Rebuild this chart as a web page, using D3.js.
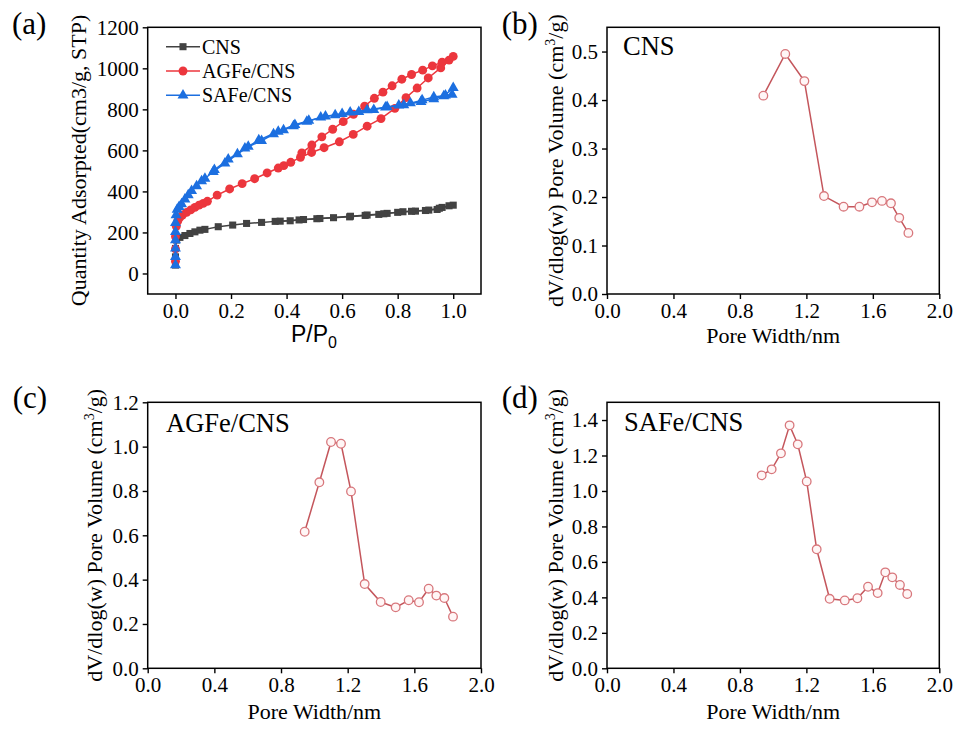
<!DOCTYPE html>
<html>
<head>
<meta charset="utf-8">
<script src="https://cdn.jsdelivr.net/npm/d3@7/dist/d3.min.js"></script>
<style>
  html, body { margin: 0; padding: 0; background: #fff; }
  svg { display: block; }
</style>
</head>
<body>
<svg id="fig" width="957" height="729"></svg>
<script>
// ---------- (a) N2 adsorption / desorption isotherms ----------
const cnsAdsP = [0, 0, 0, 0.004, 0.016, 0.034, 0.052, 0.07, 0.088, 0.106, 0.154, 0.206, 0.256, 0.31, 0.359, 0.413, 0.461, 0.509, 0.569, 0.627, 0.683, 0.732, 0.762, 0.819, 0.864, 0.912, 0.942, 0.96, 1.0];
const cnsAdsQ = [41, 81, 122, 163, 176, 185, 195, 203, 211, 215, 228, 236, 244, 249, 254, 257, 263, 267, 272, 276, 283, 288, 293, 301, 304, 309, 312, 322, 333];
const cnsDesP = [0.985, 0.95, 0.9, 0.85, 0.8, 0.75, 0.69, 0.63, 0.52, 0.445, 0.377];
const cnsDesQ = [330, 318, 307, 303, 298, 291, 285, 279, 268, 261, 255];

const agfeAdsP = [0, 0, 0, 0.003, 0.008, 0.015, 0.025, 0.04, 0.055, 0.07, 0.085, 0.1, 0.115, 0.15, 0.195, 0.24, 0.285, 0.33, 0.37, 0.39, 0.415, 0.45, 0.49, 0.535, 0.59, 0.64, 0.69, 0.74, 0.79, 0.83, 0.87, 0.91, 0.955, 1.0];
const agfeAdsQ = [60, 120, 180, 230, 255, 272, 285, 298, 310, 322, 333, 342, 352, 382, 412, 438, 462, 490, 514, 526, 542, 566, 590, 613, 642, 678, 718, 755, 805, 857, 904, 953, 1002, 1058];
const agfeDesP = [0.985, 0.96, 0.925, 0.89, 0.85, 0.815, 0.78, 0.747, 0.716, 0.681, 0.641, 0.604, 0.566, 0.527, 0.491, 0.455];
const agfeDesQ = [1040, 1030, 1012, 991, 970, 947, 915, 884, 854, 816, 776, 740, 703, 666, 626, 588];

const safeAdsP = [0, 0, 0, 0, 0, 0, 0.002, 0.006, 0.013, 0.022, 0.034, 0.046, 0.058, 0.076, 0.094, 0.106, 0.136, 0.178, 0.223, 0.262, 0.31, 0.353, 0.389, 0.425, 0.473, 0.523, 0.575, 0.629, 0.69, 0.756, 0.822, 0.884, 0.93, 0.966, 1.0];
const safeAdsQ = [41, 81, 122, 163, 203, 247, 285, 312, 325, 338, 361, 382, 403, 426, 450, 463, 496, 537, 582, 618, 647, 680, 699, 719, 740, 761, 772, 785, 797, 810, 821, 837, 850, 865, 905];
const safeDesP = [0.996, 0.972, 0.93, 0.888, 0.846, 0.804, 0.762, 0.714, 0.66, 0.6, 0.54, 0.48, 0.43, 0.37, 0.3, 0.25, 0.19, 0.14];
const safeDesQ = [872, 868, 860, 845, 830, 820, 812, 798, 788, 778, 766, 745, 725, 692, 650, 610, 556, 505];

const seriesNames = ["CNS", "AGFe/CNS", "SAFe/CNS"];
const isoXTicks = [0, 0.2, 0.4, 0.6, 0.8, 1.0];
const isoYTicks = [0, 200, 400, 600, 800, 1000, 1200];

// ---------- (b)-(d) pore size distributions ----------
const cnsWidth = [0.941, 1.073, 1.188, 1.306, 1.424, 1.519, 1.595, 1.655, 1.709, 1.759, 1.814];
const cnsVol   = [0.409, 0.495, 0.439, 0.202, 0.180, 0.180, 0.189, 0.192, 0.187, 0.157, 0.126];

const agfeWidth = [0.942, 1.030, 1.100, 1.160, 1.220, 1.302, 1.398, 1.488, 1.566, 1.628, 1.686, 1.732, 1.780, 1.832];
const agfeVol   = [0.616, 0.839, 1.021, 1.013, 0.798, 0.380, 0.299, 0.275, 0.307, 0.298, 0.359, 0.328, 0.317, 0.233];

const safeWidth = [0.931, 0.991, 1.047, 1.099, 1.148, 1.202, 1.262, 1.340, 1.431, 1.507, 1.571, 1.629, 1.675, 1.717, 1.763, 1.807];
const safeVol   = [1.088, 1.122, 1.212, 1.370, 1.263, 1.054, 0.671, 0.392, 0.383, 0.395, 0.460, 0.424, 0.541, 0.513, 0.470, 0.419];

const poreXTicks = [0, 0.4, 0.8, 1.2, 1.6, 2.0];
const cnsYTicks  = [0, 0.1, 0.2, 0.3, 0.4, 0.5];
const agfeYTicks = [0, 0.2, 0.4, 0.6, 0.8, 1.0, 1.2];
const safeYTicks = [0, 0.2, 0.4, 0.6, 0.8, 1.0, 1.2, 1.4];

// ---------- drawing ----------
const svg = d3.select("#fig");
const SERIF = "'Liberation Serif', 'Times New Roman', serif";
const SANS = "'Liberation Sans', Arial, sans-serif";
const zip = (xs, ys) => xs.map((x, i) => [x, ys[i]]);

function frame(g, x, y, xTicks, yTicks, fmtX, fmtY) {
  const [x0, x1] = x.range();
  const [y0, y1] = y.range();
  g.append("g")
    .attr("transform", `translate(0,${y0})`)
    .call(d3.axisBottom(x).tickValues(xTicks).tickFormat(fmtX).tickSize(5).tickSizeOuter(0).tickPadding(4))
    .call(a => a.select(".domain").remove());
  g.append("g")
    .attr("transform", `translate(${x0},0)`)
    .call(d3.axisLeft(y).tickValues(yTicks).tickFormat(fmtY).tickSize(5).tickSizeOuter(0).tickPadding(4))
    .call(a => a.select(".domain").remove());
  g.selectAll(".tick line").attr("stroke", "#000").attr("stroke-width", 1.4);
  g.selectAll(".tick text").attr("font-family", SERIF).attr("font-size", 21).attr("fill", "#000");
  g.append("rect")
    .attr("x", x0).attr("y", y1).attr("width", x1 - x0).attr("height", y0 - y1)
    .attr("fill", "none").attr("stroke", "#000").attr("stroke-width", 1.5);
}

function yTitle(g, xPos, yMid) {
  const t = g.append("text")
    .attr("transform", `translate(${xPos},${yMid}) rotate(-90)`)
    .attr("text-anchor", "middle")
    .attr("font-family", SERIF).attr("font-size", 22);
  t.append("tspan").text("dV/dlog(w) Pore Volume (cm");
  t.append("tspan").attr("font-size", 14).attr("dy", -8).text("3");
  t.append("tspan").attr("dy", 8).text("/g)");
}

function panelTag(text, x, y) {
  svg.append("text").attr("x", x).attr("y", y)
    .attr("font-family", SERIF).attr("font-size", 31).text(text);
}

// ----- panel (a)
{
  const g = svg.append("g");
  const x = d3.scaleLinear().domain([-0.1, 1.1]).range([147.7, 481]);
  const y = d3.scaleLinear().domain([-100, 1200]).range([294, 27.3]);
  frame(g, x, y, isoXTicks, isoYTicks, d3.format(".1f"), d3.format("d"));

  const styles = [
    { color: "#424242", shape: d3.symbolSquare, size: 50, branches: [zip(cnsAdsP, cnsAdsQ), zip(cnsDesP, cnsDesQ)] },
    { color: "#ec363d", shape: d3.symbolCircle, size: 62, branches: [zip(agfeAdsP, agfeAdsQ), zip(agfeDesP, agfeDesQ)] },
    { color: "#1c6fe0", shape: d3.symbolTriangle, size: 52, branches: [zip(safeAdsP, safeAdsQ), zip(safeDesP, safeDesQ)] }
  ];
  const line = d3.line().x(d => x(d[0])).y(d => y(d[1]));
  styles.forEach(s => {
    const sym = d3.symbol().type(s.shape).size(s.size);
    s.branches.forEach(b => {
      g.append("path").datum(b).attr("d", line)
        .attr("fill", "none").attr("stroke", s.color).attr("stroke-width", 1.5);
      g.selectAll(null).data(b).enter().append("path")
        .attr("d", sym)
        .attr("transform", d => `translate(${x(d[0])},${y(d[1])})`)
        .attr("fill", s.color);
    });
  });

  // legend
  styles.forEach((s, i) => {
    const ly = 46.7 + i * 24.3;
    g.append("line").attr("x1", 166).attr("x2", 200).attr("y1", ly).attr("y2", ly)
      .attr("stroke", s.color).attr("stroke-width", 1.5);
    g.append("path").attr("d", d3.symbol().type(s.shape).size(s.size))
      .attr("transform", `translate(183,${ly})`).attr("fill", s.color);
    g.append("text").attr("x", 202).attr("y", ly + 7)
      .attr("font-family", SERIF).attr("font-size", 20).text(seriesNames[i]);
  });

  g.append("text")
    .attr("transform", "translate(86,160.5) rotate(-90)")
    .attr("text-anchor", "middle")
    .attr("font-family", SERIF).attr("font-size", 22)
    .text("Quantity Adsorpted(cm3/g, STP)");

  const xl = g.append("text").attr("x", 314).attr("y", 342)
    .attr("text-anchor", "middle").attr("font-family", SANS).attr("font-size", 23);
  xl.append("tspan").text("P/P");
  xl.append("tspan").attr("font-size", 16).attr("dy", 6).text("0");

  panelTag("(a)", 12, 33.5);
}

// ----- panels (b)-(d)
const poreLine = "#c4565c";
const poreMarkStroke = "#d8777c";

function porePanel(widths, vols, yMax, yTicks, left, right, top, bottom, name, nameX, nameY, yTitleX, xTitleY) {
  const g = svg.append("g");
  const x = d3.scaleLinear().domain([0, 2]).range([left, right]);
  const y = d3.scaleLinear().domain([0, yMax]).range([bottom, top]);
  frame(g, x, y, poreXTicks, yTicks, d3.format(".1f"), d3.format(".1f"));
  const pts = zip(widths, vols);
  g.append("path").datum(pts)
    .attr("d", d3.line().x(d => x(d[0])).y(d => y(d[1])))
    .attr("fill", "none").attr("stroke", poreLine).attr("stroke-width", 1.5);
  g.selectAll(null).data(pts).enter().append("circle")
    .attr("cx", d => x(d[0])).attr("cy", d => y(d[1])).attr("r", 4.3)
    .attr("fill", "#fff6f6").attr("stroke", poreMarkStroke).attr("stroke-width", 1.3);
  g.append("text").attr("x", nameX).attr("y", nameY)
    .attr("font-family", SERIF).attr("font-size", 26.5).text(name);
  yTitle(g, yTitleX, (top + bottom) / 2);
  g.append("text").attr("x", (left + right) / 2).attr("y", xTitleY)
    .attr("text-anchor", "middle").attr("font-family", SERIF).attr("font-size", 22)
    .text("Pore Width/nm");
}

porePanel(cnsWidth, cnsVol, 0.55, cnsYTicks, 607, 939.3, 27.3, 294, "CNS", 623, 55, 563, 343);
panelTag("(b)", 501.7, 33.5);

porePanel(agfeWidth, agfeVol, 1.2, agfeYTicks, 147.7, 481, 402.3, 668.3, "AGFe/CNS", 166, 431.5, 102, 719);
panelTag("(c)", 12.7, 407.8);

porePanel(safeWidth, safeVol, 1.5, safeYTicks, 607, 939.3, 402.3, 668.3, "SAFe/CNS", 624, 431, 563, 719);
panelTag("(d)", 501.7, 407.8);
</script>
</body>
</html>
